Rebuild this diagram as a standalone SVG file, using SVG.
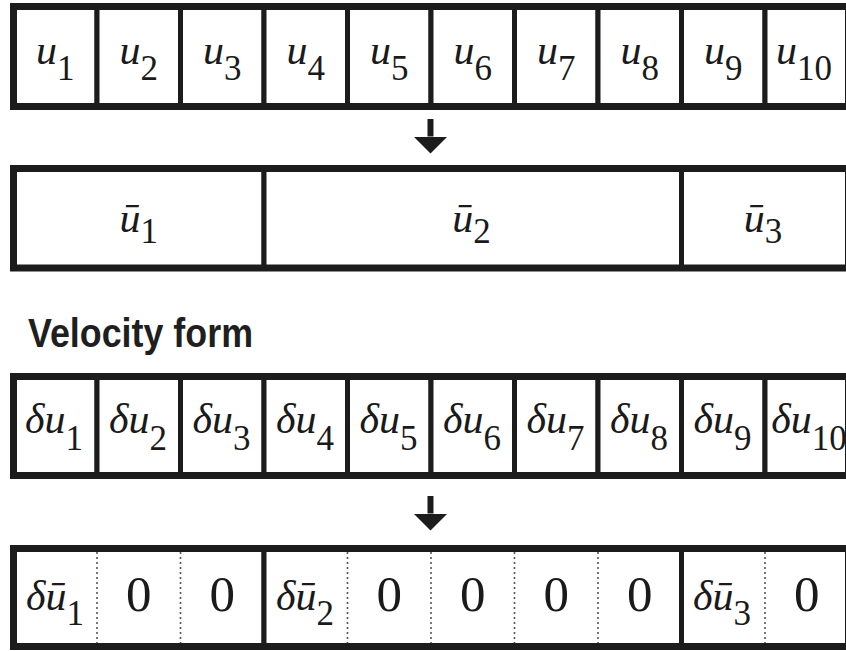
<svg xmlns="http://www.w3.org/2000/svg" width="846" height="651" viewBox="0 0 846 651">
<style>
.bg{fill:#ffffff}
.cell{fill:#ffffff;stroke:#1c1c1c;stroke-width:5}
.outer{fill:none;stroke:#1c1c1c;stroke-width:7}
.dot{stroke:#555555;stroke-width:1.6;stroke-dasharray:2 3;fill:none}
.m{font-family:"Liberation Serif","DejaVu Serif",serif;font-size:42px;font-style:italic;fill:#1a1a1a;text-anchor:middle}
.s{font-size:35px;font-style:normal}
.z{font-family:"Liberation Serif","DejaVu Serif",serif;font-size:51px;fill:#1a1a1a;text-anchor:middle}
.title{font-family:"Liberation Sans","Arial",sans-serif;font-size:41px;font-weight:bold;fill:#1f1f1f}
.arrow{stroke:#1c1c1c;stroke-width:6;fill:none}
</style>
<defs>
<marker id="ah" markerUnits="userSpaceOnUse" markerWidth="34" markerHeight="18" viewBox="0 0 34 18" refX="17" refY="0" orient="0">
<path d="M0,0 L34,0 L17,17 Z" fill="#1c1c1c"/>
</marker>
</defs>
<rect class="bg" x="0" y="0" width="846" height="651"/>

<!-- Row 1 -->
<g id="row1">
<g id="r1c1"><rect class="cell" x="13.5" y="6.5" width="83.5" height="100"/><text class="m" x="55.25" y="64">u<tspan class="s" dy="16">1</tspan></text></g>
<g id="r1c2"><rect class="cell" x="97" y="6.5" width="83.5" height="100"/><text class="m" x="138.75" y="64">u<tspan class="s" dy="16">2</tspan></text></g>
<g id="r1c3"><rect class="cell" x="180.5" y="6.5" width="83.5" height="100"/><text class="m" x="222.25" y="64">u<tspan class="s" dy="16">3</tspan></text></g>
<g id="r1c4"><rect class="cell" x="264" y="6.5" width="83.5" height="100"/><text class="m" x="305.75" y="64">u<tspan class="s" dy="16">4</tspan></text></g>
<g id="r1c5"><rect class="cell" x="347.5" y="6.5" width="83.5" height="100"/><text class="m" x="389.25" y="64">u<tspan class="s" dy="16">5</tspan></text></g>
<g id="r1c6"><rect class="cell" x="431" y="6.5" width="83.5" height="100"/><text class="m" x="472.75" y="64">u<tspan class="s" dy="16">6</tspan></text></g>
<g id="r1c7"><rect class="cell" x="514.5" y="6.5" width="83.5" height="100"/><text class="m" x="556.25" y="64">u<tspan class="s" dy="16">7</tspan></text></g>
<g id="r1c8"><rect class="cell" x="598" y="6.5" width="83.5" height="100"/><text class="m" x="639.75" y="64">u<tspan class="s" dy="16">8</tspan></text></g>
<g id="r1c9"><rect class="cell" x="681.5" y="6.5" width="83.5" height="100"/><text class="m" x="723.25" y="64">u<tspan class="s" dy="16">9</tspan></text></g>
<g id="r1c10"><rect class="cell" x="765" y="6.5" width="83.5" height="100"/><text class="m" x="804" y="64">u<tspan class="s" dy="16">10</tspan></text></g>
<rect class="outer" x="13.5" y="6.5" width="835" height="100"/>
</g>

<!-- Row 2 -->
<g id="row2">
<g id="r2c1"><rect class="cell" x="13.5" y="168.5" width="250.5" height="99.5"/><text class="m" x="138.75" y="232">ū<tspan class="s" dy="11">1</tspan></text></g>
<g id="r2c2"><rect class="cell" x="264" y="168.5" width="417.5" height="99.5"/><text class="m" x="471.5" y="232">ū<tspan class="s" dy="11">2</tspan></text></g>
<g id="r2c3"><rect class="cell" x="681.5" y="168.5" width="167" height="99.5"/><text class="m" x="763" y="232">ū<tspan class="s" dy="11">3</tspan></text></g>
<rect class="outer" x="13.5" y="168.5" width="835" height="99.5"/>
</g>

<!-- Title -->
<g id="title"><text class="title" x="28" y="347" textLength="225" lengthAdjust="spacingAndGlyphs">Velocity form</text></g>

<!-- Row 3 -->
<g id="row3">
<g id="r3c1"><rect class="cell" x="13.5" y="376.5" width="83.5" height="99"/><text class="m" x="54" y="433">δu<tspan class="s" dy="17">1</tspan></text></g>
<g id="r3c2"><rect class="cell" x="97" y="376.5" width="83.5" height="99"/><text class="m" x="138" y="433">δu<tspan class="s" dy="17">2</tspan></text></g>
<g id="r3c3"><rect class="cell" x="180.5" y="376.5" width="83.5" height="99"/><text class="m" x="221.5" y="433">δu<tspan class="s" dy="17">3</tspan></text></g>
<g id="r3c4"><rect class="cell" x="264" y="376.5" width="83.5" height="99"/><text class="m" x="305" y="433">δu<tspan class="s" dy="17">4</tspan></text></g>
<g id="r3c5"><rect class="cell" x="347.5" y="376.5" width="83.5" height="99"/><text class="m" x="388.5" y="433">δu<tspan class="s" dy="17">5</tspan></text></g>
<g id="r3c6"><rect class="cell" x="431" y="376.5" width="83.5" height="99"/><text class="m" x="472" y="433">δu<tspan class="s" dy="17">6</tspan></text></g>
<g id="r3c7"><rect class="cell" x="514.5" y="376.5" width="83.5" height="99"/><text class="m" x="555.5" y="433">δu<tspan class="s" dy="17">7</tspan></text></g>
<g id="r3c8"><rect class="cell" x="598" y="376.5" width="83.5" height="99"/><text class="m" x="639" y="433">δu<tspan class="s" dy="17">8</tspan></text></g>
<g id="r3c9"><rect class="cell" x="681.5" y="376.5" width="83.5" height="99"/><text class="m" x="722.5" y="433">δu<tspan class="s" dy="17">9</tspan></text></g>
<g id="r3c10"><rect class="cell" x="765" y="376.5" width="83.5" height="99"/><text class="m" x="809" y="433">δu<tspan class="s" dy="17">10</tspan></text></g>
<rect class="outer" x="13.5" y="376.5" width="835" height="99"/>
</g>

<!-- Row 4 -->
<g id="row4">
<g id="r4b1"><rect class="cell" x="13.5" y="548.5" width="250.5" height="98"/></g>
<g id="r4b2"><rect class="cell" x="264" y="548.5" width="417.5" height="98"/></g>
<g id="r4b3"><rect class="cell" x="681.5" y="548.5" width="167" height="98"/></g>
<g id="r4dots">
<line class="dot" x1="97" y1="552" x2="97" y2="643"/>
<line class="dot" x1="180.5" y1="552" x2="180.5" y2="643"/>
<line class="dot" x1="347.5" y1="552" x2="347.5" y2="643"/>
<line class="dot" x1="431" y1="552" x2="431" y2="643"/>
<line class="dot" x1="514.5" y1="552" x2="514.5" y2="643"/>
<line class="dot" x1="598" y1="552" x2="598" y2="643"/>
<line class="dot" x1="765" y1="552" x2="765" y2="643"/>
</g>
<g id="r4c1"><text class="m" x="55" y="610">δū<tspan class="s" dy="15">1</tspan></text></g>
<g id="r4c2"><text class="z" x="138.75" y="611">0</text></g>
<g id="r4c3"><text class="z" x="222.25" y="611">0</text></g>
<g id="r4c4"><text class="m" x="305" y="610">δū<tspan class="s" dy="15">2</tspan></text></g>
<g id="r4c5"><text class="z" x="389.25" y="611">0</text></g>
<g id="r4c6"><text class="z" x="472.75" y="611">0</text></g>
<g id="r4c7"><text class="z" x="556.25" y="611">0</text></g>
<g id="r4c8"><text class="z" x="639.75" y="611">0</text></g>
<g id="r4c9"><text class="m" x="722" y="610">δū<tspan class="s" dy="15">3</tspan></text></g>
<g id="r4c10"><text class="z" x="806.75" y="611">0</text></g>
<rect class="outer" x="13.5" y="548.5" width="835" height="98"/>
</g>

<!-- Connectors -->
<g id="connectors">
<line class="arrow" x1="430.5" y1="119" x2="430.5" y2="136.5" marker-end="url(#ah)"/>
<line class="arrow" x1="430.5" y1="496" x2="430.5" y2="513.5" marker-end="url(#ah)"/>
</g>
</svg>
